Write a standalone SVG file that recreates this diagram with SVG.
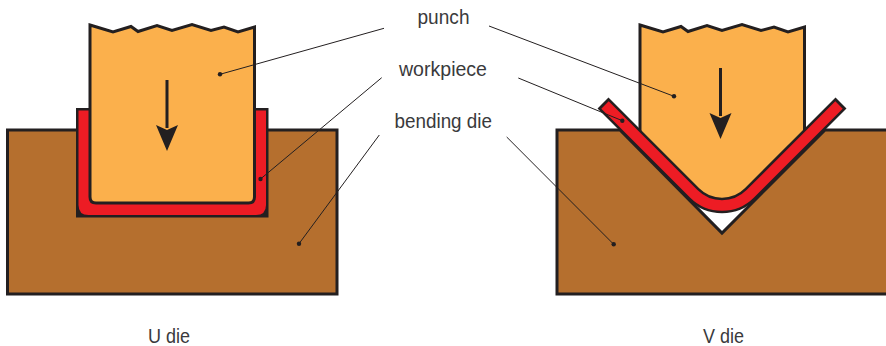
<svg xmlns="http://www.w3.org/2000/svg" width="886" height="346" viewBox="0 0 886 346">
<style>
.die{fill:#b56f2e;stroke:#231f20;stroke-width:3}
.punch{fill:#fbb04c;stroke:#231f20;stroke-width:3;stroke-linejoin:miter}
.red{fill:#ed1c24}
.blk{fill:#231f20}
.arrow{stroke:#231f20;stroke-width:3;fill:none}
.leader{stroke:#231f20;stroke-width:1;fill:none}
text{font-family:"Liberation Sans",Arial,sans-serif;font-size:20.5px;fill:#3a3a3c}
</style>
<g id="u-die"><rect class="die" x="7.5" y="130" width="329.5" height="164"/></g>
<g id="u-workpiece">
<rect class="blk" x="76" y="108" width="192.5" height="109.5"/>
<path class="red" d="M78.5,110.5H266V205Q266,215 256,215H88.5Q78.5,215 78.5,205Z"/>
</g>
<g id="u-punch">
<path class="punch" d="M90,25 L113,32 131,26.5 138,31.5 157,25.5 172,30.5 192,24.5 211,30.5 224,27 238,32 254.5,27 V197 Q254.5,203 248.5,203 H96 Q90,203 90,197 Z"/>
<path class="arrow" d="M167,80V128"/>
<path class="blk" d="M156,125L167,130L178,125L167,151Z"/>
</g>
<g id="v-die"><path class="die" d="M557,130H620L722,233L825,130H889V294H557Z"/></g>
<g id="v-punch">
<path class="punch" d="M640,25 L663,32 681,26.5 688,31.5 707,25.5 722,30.5 742,24.5 761,30.5 774,27 788,32 804.5,27 V139.6 L750.28,193.78 A40,40 0 0 1 693.72,193.78 L640,140 Z"/>
<path class="arrow" d="M720.5,68V116"/>
<path class="blk" d="M709.5,113L720.5,118L731.5,113L720.5,139Z"/>
</g>
<g id="v-workpiece">
<path d="M603,103.06L693.72,193.78A40,40 0 0 0 750.28,193.78L841,103.06" fill="none" stroke="#231f20" stroke-width="15.5"/>
<path d="M605,105.06L693.72,193.78A40,40 0 0 0 750.28,193.78L839,105.06" fill="none" stroke="#ed1c24" stroke-width="10.5"/>
</g>
<g id="connectors">
<path class="leader" d="M384,28.3L220,74.3"/><circle class="blk" cx="220" cy="74.3" r="2.2"/>
<path class="leader" d="M381.7,77.7L260.5,179"/><circle class="blk" cx="260.5" cy="179" r="2.2"/>
<path class="leader" d="M379.3,135L299,243.7"/><circle class="blk" cx="299" cy="243.7" r="2.2"/>
<path class="leader" d="M489,26L674,96.3"/><circle class="blk" cx="674" cy="96.3" r="2.2"/>
<path class="leader" d="M518.3,78L622.3,120.7"/><circle class="blk" cx="622.3" cy="120.7" r="2.2"/>
<path class="leader" d="M506.7,137L613.7,244.3"/><circle class="blk" cx="613.7" cy="244.3" r="2.2"/>
</g>
<g id="labels">
<text x="417.5" y="24" textLength="52" lengthAdjust="spacingAndGlyphs">punch</text>
<text x="399" y="76" textLength="88" lengthAdjust="spacingAndGlyphs">workpiece</text>
<text x="394.5" y="128" textLength="97.5" lengthAdjust="spacingAndGlyphs">bending die</text>
<text x="148" y="343" textLength="42" lengthAdjust="spacingAndGlyphs">U die</text>
<text x="703" y="343" textLength="41" lengthAdjust="spacingAndGlyphs">V die</text>
</g>
</svg>
